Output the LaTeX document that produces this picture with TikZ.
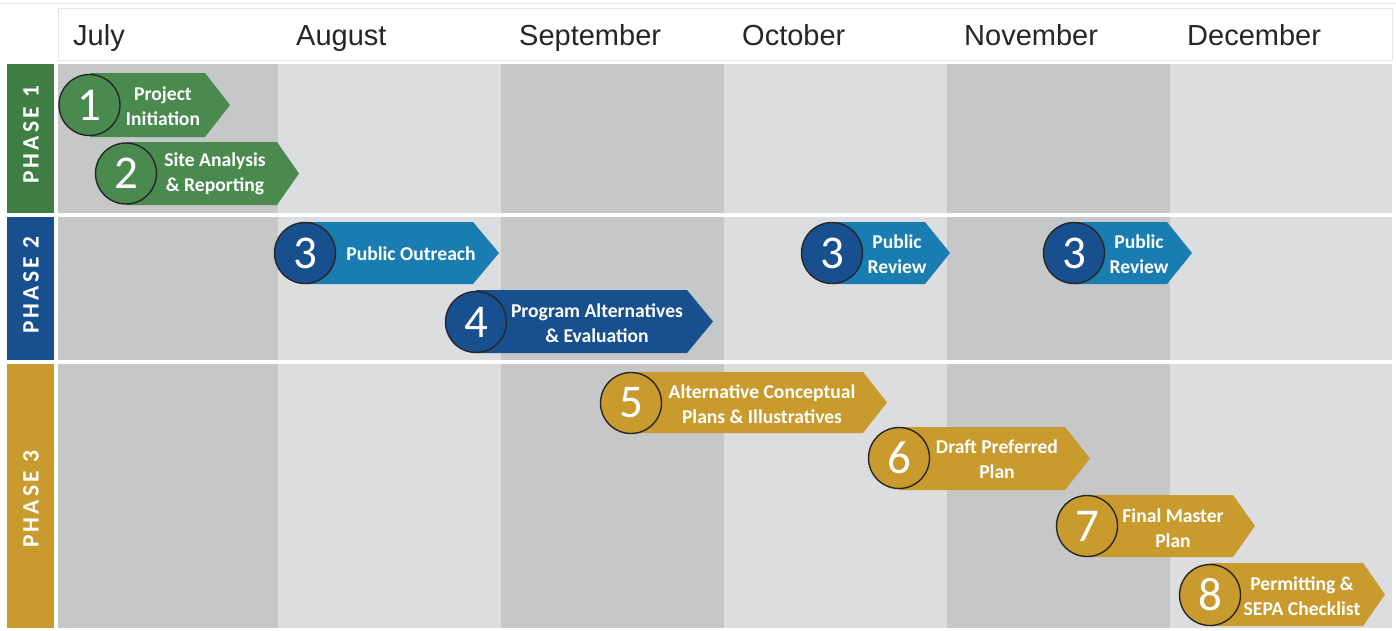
\documentclass[tikz,border=0pt]{standalone}
\usepackage{fontspec}
\newfontfamily\carlito{Carlito}
\newfontfamily\phasefont[LetterSpace=14]{Carlito}
\newfontfamily\monthfont{Liberation Sans}
\definecolor{colDark}{HTML}{C6C7C9}
\definecolor{colLight}{HTML}{DCDDDF}
\definecolor{pGreen}{HTML}{3F7E44}
\definecolor{aGreen}{HTML}{4A8A4F}
\definecolor{pBlue}{HTML}{184F8E}
\definecolor{aBlue}{HTML}{1A7DB1}
\definecolor{pGold}{HTML}{C99A2E}
\definecolor{frameGray}{HTML}{E6E6E6}
\tikzset{
  month/.style={anchor=base west, text=black!85, font=\monthfont\fontsize{29}{29}\selectfont, inner sep=0},
  phase/.style={rotate=90, text=white, font=\phasefont\bfseries\fontsize{23.5}{23.5}\selectfont, inner sep=0},
  num/.style={circle, draw=black!85, line width=1.4pt, minimum size=61pt, inner sep=0, text=white, font=\carlito\fontsize{47}{47}\selectfont},
  lbl/.style={align=center, text=white, font=\carlito\bfseries\fontsize{19.6}{24.5}\selectfont, inner sep=0},
}
\newcommand{\taskarrow}[6]{\fill[#1] (#4,#2) -- (#5,#2) -- (#6,{(#2+#3)/2}) -- (#5,#3) -- (#4,#3) -- cycle;}
\begin{document}
\begin{tikzpicture}[x=1pt,y=-1pt]
\useasboundingbox (0,0) rectangle (1396,630);
\fill[white] (0,0) rectangle (1396,630);
\draw[frameGray, line width=0.8pt] (0.5,3) -- (1395.5,3);
% header
\draw[frameGray, line width=0.8pt, fill=white] (58,8) rectangle (1392,60);
% columns per band
\foreach \ya/\yb in {64/213, 217/360, 364/628}{
  \fill[colDark]  (58,\ya) rectangle (278,\yb);
  \fill[colLight] (278,\ya) rectangle (501,\yb);
  \fill[colDark]  (501,\ya) rectangle (724,\yb);
  \fill[colLight] (724,\ya) rectangle (947,\yb);
  \fill[colDark]  (947,\ya) rectangle (1170,\yb);
  \fill[colLight] (1170,\ya) rectangle (1392,\yb);
}
% phase labels
\fill[pGreen] (7,64) rectangle (54,213);
\fill[pBlue] (7,217) rectangle (54,360);
\fill[pGold] (7,364) rectangle (54,628);
\node[phase] (ph1) at (31,135) {PHASE 1};
\node[phase] (ph2) at (31,285) {PHASE 2};
\node[phase] (ph3) at (31,499) {PHASE 3};
% months
\node[month] (m1) at (73,45) {July};
\node[month] (m2) at (296,45) {August};
\node[month] (m3) at (519,45) {September};
\node[month] (m4) at (742,45) {October};
\node[month] (m5) at (964,45) {November};
\node[month] (m6) at (1187,45) {December};
% task 1
\taskarrow{aGreen}{73}{137}{90}{205}{230}
\node[num, fill=aGreen] (c1) at (89.5,105) {1};
\node[lbl] (t1) at (163,106) {Project\\Initiation};
% task 2
\taskarrow{aGreen}{142}{205}{126}{277}{299}
\node[num, fill=aGreen] (c2) at (126,173.5) {2};
\node[lbl] (t2) at (215,174) {Site Analysis\\\& Reporting};
% task 3 outreach
\taskarrow{aBlue}{222}{284}{305}{473}{499}
\node[num, fill=pBlue] (c3) at (305,253) {3};
\node[lbl] (t3) at (411,254) {Public Outreach};
% task 4
\taskarrow{pBlue}{290}{353}{476}{687}{713}
\node[num, fill=pBlue] (c4) at (476,322) {4};
\node[lbl] (t4) at (597,323) {Program Alternatives\\\& Evaluation};
% public review 1
\taskarrow{aBlue}{222}{284}{832}{925}{950}
\node[num, fill=pBlue] (c3a) at (832,253) {3};
\node[lbl] (t3a) at (897,254) {Public\\Review};
% public review 2
\taskarrow{aBlue}{222}{284}{1074}{1167}{1192}
\node[num, fill=pBlue] (c3b) at (1074,253) {3};
\node[lbl] (t3b) at (1139,254) {Public\\Review};
% task 5
\taskarrow{pGold}{372}{433}{631}{863}{887}
\node[num, fill=pGold] (c5) at (631,403) {5};
\node[lbl] (t5) at (762,404) {Alternative Conceptual\\Plans \& Illustratives};
% task 6
\taskarrow{pGold}{427}{490}{899}{1065}{1090}
\node[num, fill=pGold] (c6) at (899,458) {6};
\node[lbl] (t6) at (997,459) {Draft Preferred\\Plan};
% task 7
\taskarrow{pGold}{495}{557}{1087}{1233}{1255}
\node[num, fill=pGold] (c7) at (1087,526) {7};
\node[lbl] (t7) at (1173,528) {Final Master\\Plan};
% task 8
\taskarrow{pGold}{563}{626}{1210}{1363}{1385}
\node[num, fill=pGold] (c8) at (1210,595) {8};
\node[lbl] (t8) at (1302,596) {Permitting \&\\SEPA Checklist};
\end{tikzpicture}
\end{document}
